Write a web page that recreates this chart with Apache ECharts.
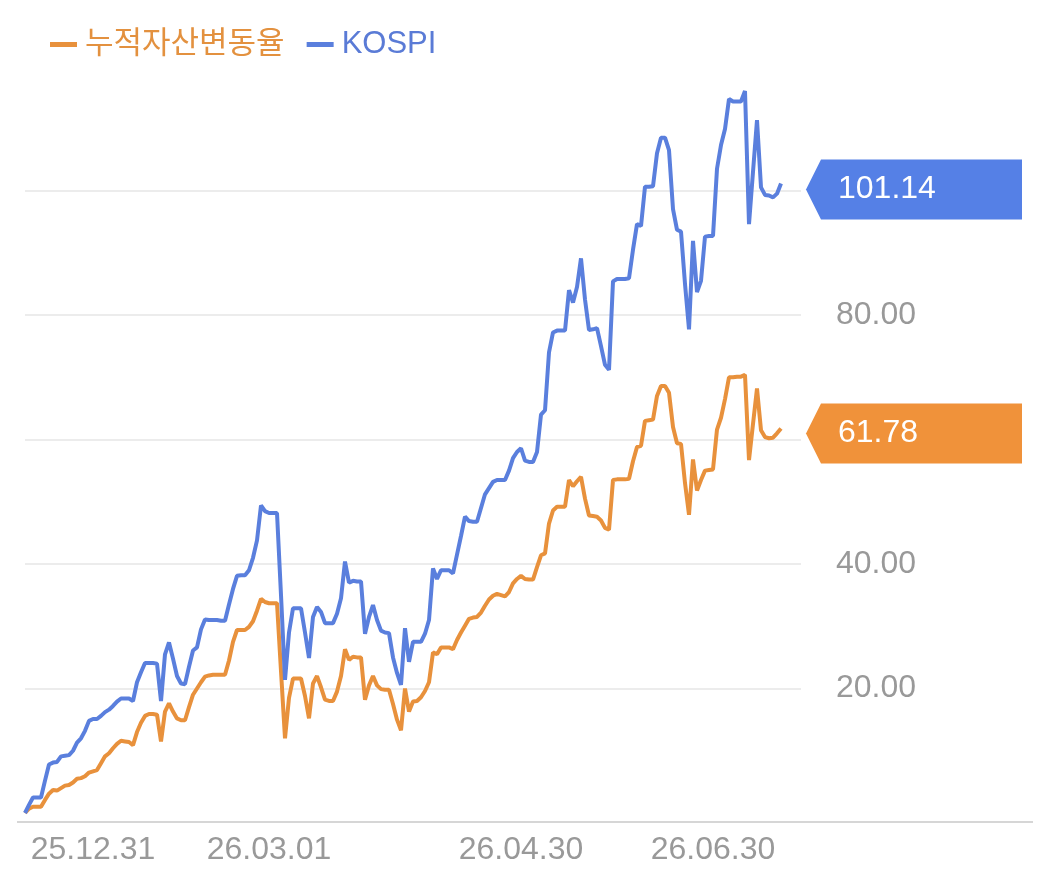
<!DOCTYPE html>
<html>
<head>
<meta charset="utf-8">
<script src="https://cdn.jsdelivr.net/npm/echarts@6/dist/echarts.min.js"></script>
<style>
html,body{margin:0;padding:0;background:#fff;}
#c{width:1046px;height:891px;}
</style>
</head>
<body>
<div id="c"></div>
<script>
const seriesNames = ['누적자산변동율', 'KOSPI'];
const tickIndex = [17, 61, 124, 172];
const tickLabels = ['25.12.31', '26.03.01', '26.04.30', '26.06.30'];
const yTickValues = [20, 40, 60, 80, 100];

const assetChange = [
0,0.7,1.0,1.0,1.0,2.1,3.1,3.7,3.6,4.0,
4.4,4.5,4.9,5.5,5.6,5.9,6.5,6.7,6.9,8.0,
9.1,9.6,10.4,11.1,11.6,11.5,11.4,10.9,13.0,14.5,
15.6,15.9,15.9,15.8,11.5,16.3,17.6,16.3,15.2,14.9,
14.9,17.0,19.0,20.0,21.0,21.9,22.1,22.2,22.2,22.2,
22.2,24.5,27.5,29.4,29.4,29.4,29.9,30.8,32.5,34.4,
33.9,33.7,33.7,33.7,22.8,12.0,18.5,21.6,21.6,21.6,
18.8,15.2,20.8,22.0,20.2,18.2,18.0,18.0,19.5,22.0,
26.3,24.6,25.1,25.0,25.0,18.2,20.5,22.0,20.5,19.9,
19.8,19.8,17.5,15.0,13.3,20.0,16.3,17.9,18.0,18.6,
19.6,21.0,25.8,25.5,26.6,26.6,26.6,26.3,27.8,29.0,
30.1,31.2,31.4,31.5,32.2,33.3,34.3,34.9,35.2,35.0,
34.8,35.5,36.9,37.6,38.1,37.6,37.5,37.5,39.5,41.4,
41.7,46.5,48.6,49.2,49.2,49.2,53.5,52.5,53.3,54.0,
50.5,47.8,47.7,47.6,47.0,45.8,45.5,53.5,53.6,53.6,
53.6,53.7,56.5,58.8,59.0,63.0,63.1,63.2,67.0,68.6,
68.6,67.5,62.0,59.4,59.3,53.0,47.9,56.8,51.8,53.5,
55.0,55.1,55.2,61.6,63.5,66.5,70.0,70.0,70.1,70.1,
70.4,56.7,62.5,68.2,61.5,60.4,60.2,60.3,61.0,61.78
];

const kospi = [
0,1.3,2.5,2.5,2.5,5.2,7.8,8.1,8.2,9.1,
9.2,9.3,10.0,11.3,12.0,13.2,14.8,15.1,15.1,15.6,
16.2,16.6,17.2,17.9,18.4,18.4,18.4,18.0,21.0,22.6,
24.1,24.1,24.1,24.0,18.0,25.5,27.4,24.8,22.0,20.8,
20.7,23.5,26.1,26.6,29.5,31.1,31.0,31.0,31.0,30.9,
30.9,33.5,36.0,38.1,38.2,38.2,39.0,41.0,43.8,49.4,
48.5,48.2,48.2,48.2,35.0,21.4,29.0,32.9,32.9,32.9,
29.0,24.9,31.5,33.1,32.3,30.5,30.5,30.5,32.0,34.5,
40.4,37.0,37.3,37.2,37.2,28.8,31.5,33.4,31.0,29.3,
29.0,28.9,25.0,22.5,20.6,29.7,24.3,27.5,27.5,27.5,
28.8,31.0,39.3,37.6,39.0,39.0,39.0,38.5,41.5,44.5,
47.6,46.9,46.8,46.8,49.0,51.2,52.2,53.2,53.5,53.5,
53.5,55.0,57.0,58.0,58.6,56.6,56.4,56.4,58.0,64.0,
64.7,74.0,77.2,77.5,77.5,77.5,84.0,82.0,84.5,89.1,
82.5,77.6,77.7,77.9,75.0,72.0,71.2,85.4,85.8,85.8,
85.8,85.9,90.5,94.6,94.3,100.6,100.6,100.7,106.0,108.5,
108.5,106.5,97.0,93.7,93.4,85.0,77.7,91.9,83.7,85.5,
92.6,92.7,92.7,103.5,107.3,109.9,114.7,114.3,114.3,114.3,
116.0,94.6,103.0,111.3,100.5,99.3,99.2,98.9,99.5,101.14
];

const categories = kospi.map((_, i) => String(i));
const lastIdx = categories.length - 1;

const lineColors = ['#E8913C', '#5A7FDD'];
const tagColors = ['#F0923A', '#5580E6'];
const legendColors = ['#E3913F', '#5A7BD6'];

const chart = echarts.init(document.getElementById('c'), null, {renderer: 'canvas'});

function tag(idx, data) {
  const v = data[lastIdx];
  return {
    symbol: 'path://M0,30 L15,0 L216,0 L216,60 L15,60 Z',
    symbolSize: [216, 60],
    symbolKeepAspect: false,
    silent: true,
    itemStyle: {color: tagColors[idx]},
    label: {
      show: true,
      position: [32, 30],
      align: 'left',
      verticalAlign: 'middle',
      color: '#ffffff',
      fontSize: 32,
      fontFamily: 'Liberation Sans, Arial, sans-serif',
      formatter: () => v.toFixed(2)
    },
    data: [{coord: [lastIdx, v], symbolOffset: [133, idx === 1 ? 6 : 5]}]
  };
}

chart.setOption({
  animation: false,
  backgroundColor: '#ffffff',
  legend: {
    left: 45,
    top: 24,
    icon: 'rect',
    itemWidth: 27,
    itemHeight: 5,
    itemGap: 22,
    textStyle: {fontSize: 31, fontFamily: 'Liberation Sans, Noto Sans CJK KR, sans-serif', padding: [0, 0, 0, 3]},
    data: seriesNames.map((n, i) => ({name: n, textStyle: {color: legendColors[i]}}))
  },
  grid: {left: 25, top: 78.5, bottom: 78, right: 245, containLabel: false},
  xAxis: {
    type: 'category',
    boundaryGap: false,
    data: categories,
    max: 194,
    offset: 11,
    axisLine: {show: false},
    axisTick: {show: false},
    splitLine: {show: false},
    axisLabel: {
      interval: (index) => tickIndex.includes(index),
      formatter: (val, index) => {
        const k = tickIndex.indexOf(Number(val));
        return k >= 0 ? tickLabels[k] : '';
      },
      margin: 10,
      color: '#999999',
      fontSize: 32,
      fontFamily: 'Liberation Sans, Arial, sans-serif'
    }
  },
  yAxis: {
    type: 'value',
    position: 'right',
    min: 0,
    max: 118,
    interval: 20,
    axisLine: {show: false},
    axisTick: {show: false},
    splitLine: {show: true, showMinLine: false, showMaxLine: false, lineStyle: {color: '#ececec', width: 2}},
    axisLabel: {
      showMinLabel: false,
      showMaxLabel: false,
      margin: 35,
      align: 'left',
      color: '#999999',
      fontSize: 32,
      fontFamily: 'Liberation Sans, Arial, sans-serif',
      formatter: (v) => yTickValues.includes(v) ? v.toFixed(2) : ''
    }
  },
  graphic: [{
    type: 'line',
    shape: {x1: 17, y1: 822, x2: 1033, y2: 822},
    style: {stroke: '#d6d6d6', lineWidth: 2},
    silent: true
  }],
  series: [
    {
      name: seriesNames[0],
      type: 'line',
      data: assetChange,
      symbol: 'none',
      color: lineColors[0],
      lineStyle: {width: 4, color: lineColors[0]},
      z: 3,
      markPoint: tag(0, assetChange)
    },
    {
      name: seriesNames[1],
      type: 'line',
      data: kospi,
      symbol: 'none',
      color: lineColors[1],
      lineStyle: {width: 4, color: lineColors[1]},
      z: 4,
      markPoint: tag(1, kospi)
    }
  ]
});
</script>
</body>
</html>
